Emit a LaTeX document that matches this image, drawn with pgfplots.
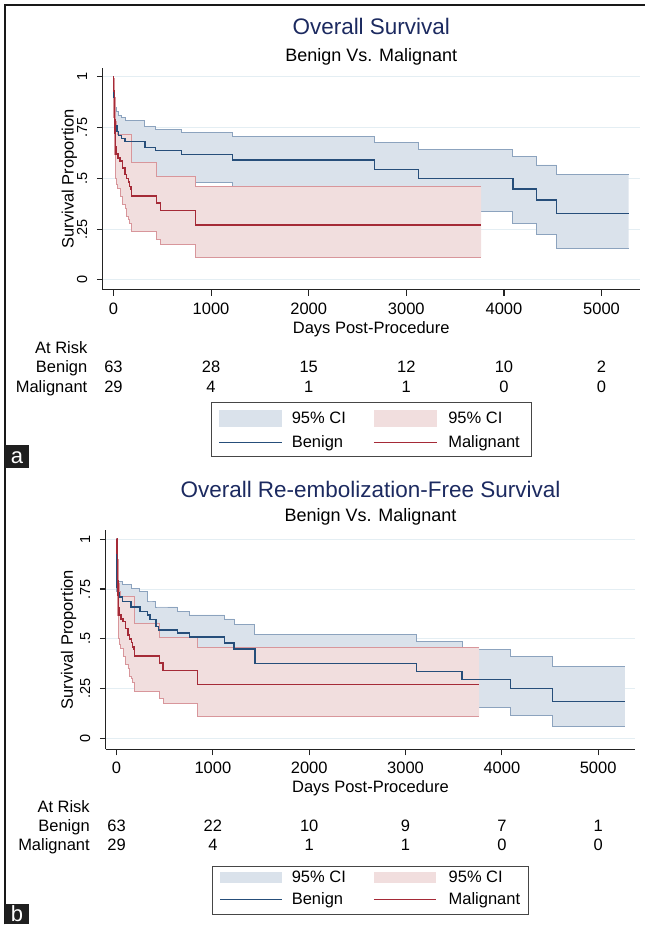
\documentclass[border=0pt]{standalone}
\usepackage{fontspec}
\setmainfont{Liberation Sans}
\usepackage{pgfplots}
\usepackage{pgfplotstable}
\pgfplotsset{compat=1.18}
\usepgfplotslibrary{fillbetween}

\definecolor{titlecol}{RGB}{28,42,96}
\definecolor{axcol}{RGB}{35,35,35}
\definecolor{gridcol}{RGB}{228,238,243}
\definecolor{bfill}{RGB}{218,226,235}
\definecolor{bci}{RGB}{140,163,190}
\definecolor{bline}{RGB}{38,78,122}
\definecolor{pfill}{RGB}{241,222,222}
\definecolor{pci}{RGB}{216,150,155}
\definecolor{rline}{RGB}{165,42,55}
\definecolor{legcol}{RGB}{70,70,70}

\newcommand\fs[1]{\fontsize{#1}{#1}\selectfont}

% ---- Panel a data: time, KM estimate, lower CI, upper CI
\pgfplotstableread{
t s lo hi
0 1 1 1
3 0.90 0.82 0.95
8 0.84 0.75 0.91
14 0.79 0.70 0.87
22 0.76 0.66 0.85
35 0.73 0.62 0.83
55 0.71 0.60 0.81
85 0.695 0.58 0.80
120 0.681 0.56 0.787
322 0.652 0.53 0.755
430 0.637 0.50 0.739
695 0.619 0.478 0.726
1218 0.59 0.44 0.705
2673 0.545 0.39 0.677
3122 0.498 0.336 0.644
4091 0.448 0.279 0.609
4332 0.393 0.222 0.566
4540 0.328 0.154 0.517
5278 0.328 0.154 0.517
}\BenA

\pgfplotstableread{
t s lo hi
0 1 1 1
3 0.93 0.80 0.99
8 0.86 0.70 0.95
12 0.79 0.62 0.90
17 0.72 0.56 0.84
22 0.655 0.50 0.78
27 0.62 0.47 0.74
45 0.60 0.45 0.714
68 0.586 0.41 0.714
95 0.552 0.37 0.714
119 0.52 0.35 0.714
136 0.50 0.31 0.714
155 0.483 0.30 0.714
164 0.46 0.28 0.714
182 0.448 0.26 0.58
188 0.414 0.238 0.58
444 0.379 0.20 0.509
484 0.341 0.176 0.509
838 0.271 0.112 0.458
3765 0.271 0.112 0.458
}\MalA

% ---- Panel b data
\pgfplotstableread{
t s lo hi
0 1 1 1
3 0.84 0.74 0.90
6 0.76 0.66 0.84
12 0.73 0.62 0.81
24 0.71 0.60 0.79
60 0.688 0.57 0.775
152 0.66 0.55 0.755
242 0.638 0.52 0.738
323 0.62 0.50 0.69
346 0.597 0.48 0.69
409 0.563 0.45 0.66
433 0.545 0.44 0.66
631 0.53 0.43 0.638
759 0.51 0.41 0.62
1123 0.479 0.38 0.60
1221 0.449 0.35 0.574
1436 0.378 0.28 0.52
3115 0.337 0.24 0.485
3588 0.296 0.155 0.447
4090 0.251 0.117 0.41
4528 0.188 0.063 0.363
5278 0.188 0.063 0.363
}\BenB

\pgfplotstableread{
t s lo hi
0 1 1 1
3 0.93 0.80 0.99
8 0.86 0.70 0.95
12 0.79 0.62 0.90
17 0.72 0.56 0.84
22 0.655 0.50 0.78
27 0.62 0.47 0.74
45 0.60 0.45 0.714
68 0.586 0.41 0.714
95 0.552 0.37 0.714
119 0.52 0.35 0.714
136 0.50 0.31 0.714
155 0.483 0.30 0.714
164 0.46 0.28 0.714
182 0.448 0.26 0.58
188 0.414 0.238 0.58
444 0.379 0.20 0.509
484 0.341 0.176 0.509
838 0.271 0.112 0.458
3765 0.271 0.112 0.458
}\MalB

\tikzset{
  risk/.style={anchor=base, inner sep=0pt, font=\fs{16.5}},
  riskhead/.style={anchor=base east, inner sep=0pt, font=\fs{16.5}},
  ghost/.style={draw=none, fill=none},
}

\pgfplotsset{
  kmaxis/.style={
    scale only axis,
    axis lines*=left,
    axis line style={line width=1.1pt, color=axcol},
    tick align=outside,
    major tick length=6pt,
    tick style={line width=1.1pt, color=axcol},
    xtick={0,1000,2000,3000,4000,5000},
    xticklabels={0,1000,2000,3000,4000,5000},
    ytick={0,0.25,0.5,0.75,1},
    yticklabels={0,.25,.5,.75,1},
    minor tick num=0,
    ymajorgrids,
    grid style={line width=1pt, color=gridcol},
    xticklabel style={font=\fs{16.5}, inner sep=0pt, anchor=base, yshift=-18.5pt},
    yticklabel style={font=\fs{14.5}, inner sep=0pt, xshift=-9.7pt, rotate=90, anchor=base},
    xlabel={Days Post-Procedure},
    ylabel={Survival Proportion},
    label style={font=\fs{16.5}},
    title style={font=\fs{22.5}, color=titlecol, anchor=base},
    clip=false,
    legend columns=2,
    legend style={anchor=north west, draw=legcol, line width=0.8pt,
      inner sep=0pt, outer sep=0pt, column sep=0pt, row sep=0pt,
      font=\fs{16.5}, cells={anchor=west}, nodes={inner sep=0pt}},
  },
}

\begin{document}
\begin{tikzpicture}
\path (0pt,0pt) rectangle (645pt,925pt);

% ================= Panel a =================
\begin{axis}[kmaxis,
  at={(103pt,635pt)}, anchor=south west,
  width=537pt, height=222pt,
  xmin=-107.5, xmax=5389, ymin=-0.049, ymax=1.044,
  title={Overall Survival},
  title style={at={(axis description cs:0.5,1.1225)}},
  xlabel style={at={(axis description cs:0.5,-0.195)}, anchor=base},
  ylabel style={at={(axis description cs:-0.0546,0.5)}, anchor=base},
  legend style={at={(axis description cs:0.20298,-0.509)}},
]
\addplot[const plot, draw=none, name path=aBhi, forget plot] table[x=t,y=hi]{\BenA};
\addplot[const plot, draw=none, name path=aBlo, forget plot] table[x=t,y=lo]{\BenA};
\addplot[fill=bfill, draw=none,
  legend image code/.code={\path[ghost] (-7.3pt,-12pt) rectangle (72.7pt,15.5pt);
    \fill[bfill] (0pt,-8.5pt) rectangle (62.9pt,8.5pt);}]
  fill between[of=aBhi and aBlo, on layer=main];
\addlegendentry{\makebox[81.5pt][l]{95\% CI}}
\addplot[const plot, color=bci, line width=0.9pt, forget plot] table[x=t,y=hi]{\BenA};
\addplot[const plot, color=bci, line width=0.9pt, forget plot] table[x=t,y=lo]{\BenA};

\addplot[const plot, draw=none, name path=aMhi, forget plot] table[x=t,y=hi]{\MalA};
\addplot[const plot, draw=none, name path=aMlo, forget plot] table[x=t,y=lo]{\MalA};
\addplot[fill=pfill, draw=none,
  legend image code/.code={\path[ghost] (0pt,-12pt) rectangle (74.5pt,15.5pt);
    \fill[pfill] (0pt,-8.5pt) rectangle (63.4pt,8.5pt);}]
  fill between[of=aMhi and aMlo, on layer=main];
\addlegendentry{\makebox[83pt][l]{95\% CI}}
\addplot[const plot, color=pci, line width=0.9pt, forget plot] table[x=t,y=hi]{\MalA};
\addplot[const plot, color=pci, line width=0.9pt, forget plot] table[x=t,y=lo]{\MalA};

\addplot[const plot, color=bline, line width=1.4pt,
  legend image code/.code={\path[ghost] (-7.3pt,-14.3pt) rectangle (72.7pt,12.2pt);
    \draw[bline, line width=1.2pt] (0pt,0pt) -- (62.9pt,0pt);}]
  table[x=t,y=s]{\BenA};
\addlegendentry{\makebox[81.5pt][l]{Benign}}
\addplot[const plot, color=rline, line width=1.4pt,
  legend image code/.code={\path[ghost] (0pt,-14.3pt) rectangle (74.5pt,12.2pt);
    \draw[rline, line width=1.2pt] (0pt,0pt) -- (63.4pt,0pt);}]
  table[x=t,y=s]{\MalA};
\addlegendentry{\makebox[83pt][l]{Malignant}}

\node[anchor=base, font=\fs{18}] at (axis description cs:0.5,1.031) {Benign Vs. Malignant};
\node[riskhead] at (axis description cs:-0.0287,-0.285) {At Risk};
\node[riskhead] at (axis description cs:-0.0287,-0.374) {Benign};
\node[riskhead] at (axis description cs:-0.0287,-0.4617) {Malignant};
\node[risk] at (axis cs:0,-0.4576) {63};
\node[risk] at (axis cs:1000,-0.4576) {28};
\node[risk] at (axis cs:2000,-0.4576) {15};
\node[risk] at (axis cs:3000,-0.4576) {12};
\node[risk] at (axis cs:4000,-0.4576) {10};
\node[risk] at (axis cs:5000,-0.4576) {2};
\node[risk] at (axis cs:0,-0.5537) {29};
\node[risk] at (axis cs:1000,-0.5537) {4};
\node[risk] at (axis cs:2000,-0.5537) {1};
\node[risk] at (axis cs:3000,-0.5537) {1};
\node[risk] at (axis cs:4000,-0.5537) {0};
\node[risk] at (axis cs:5000,-0.5537) {0};
\end{axis}

% ================= Panel b =================
\begin{axis}[kmaxis,
  at={(106pt,175pt)}, anchor=south west,
  width=529.5pt, height=220pt,
  xmin=-110, xmax=5383, ymin=-0.0536, ymax=1.0475,
  title={Overall Re-embolization-Free Survival},
  title style={at={(axis description cs:0.5,1.1205)}},
  xlabel style={at={(axis description cs:0.5,-0.1955)}, anchor=base},
  ylabel style={at={(axis description cs:-0.0623,0.5)}, anchor=base},
  legend style={at={(axis description cs:0.2015,-0.5332)}},
]
\addplot[const plot, draw=none, name path=bBhi, forget plot] table[x=t,y=hi]{\BenB};
\addplot[const plot, draw=none, name path=bBlo, forget plot] table[x=t,y=lo]{\BenB};
\addplot[fill=bfill, draw=none,
  legend image code/.code={\path[ghost] (-7.8pt,-10.8pt) rectangle (71.5pt,11.1pt);
    \fill[bfill] (0pt,-5.7pt) rectangle (61.7pt,5.7pt);}]
  fill between[of=bBhi and bBlo, on layer=main];
\addlegendentry{\makebox[81.5pt][l]{95\% CI}}
\addplot[const plot, color=bci, line width=0.9pt, forget plot] table[x=t,y=hi]{\BenB};
\addplot[const plot, color=bci, line width=0.9pt, forget plot] table[x=t,y=lo]{\BenB};

\addplot[const plot, draw=none, name path=bMhi, forget plot] table[x=t,y=hi]{\MalB};
\addplot[const plot, draw=none, name path=bMlo, forget plot] table[x=t,y=lo]{\MalB};
\addplot[fill=pfill, draw=none,
  legend image code/.code={\path[ghost] (0pt,-10.8pt) rectangle (74.9pt,11.1pt);
    \fill[pfill] (0pt,-5.7pt) rectangle (62.5pt,5.7pt);}]
  fill between[of=bMhi and bMlo, on layer=main];
\addlegendentry{\makebox[79.4pt][l]{95\% CI}}
\addplot[const plot, color=pci, line width=0.9pt, forget plot] table[x=t,y=hi]{\MalB};
\addplot[const plot, color=pci, line width=0.9pt, forget plot] table[x=t,y=lo]{\MalB};

\addplot[const plot, color=bline, line width=1.4pt,
  legend image code/.code={\path[ghost] (-7.8pt,-15pt) rectangle (71.5pt,10.8pt);
    \draw[bline, line width=1.2pt] (0pt,0pt) -- (61.7pt,0pt);}]
  table[x=t,y=s]{\BenB};
\addlegendentry{\makebox[81.5pt][l]{Benign}}
\addplot[const plot, color=rline, line width=1.4pt,
  legend image code/.code={\path[ghost] (0pt,-15pt) rectangle (74.9pt,10.8pt);
    \draw[rline, line width=1.2pt] (0pt,0pt) -- (62.5pt,0pt);}]
  table[x=t,y=s]{\MalB};
\addlegendentry{\makebox[79.4pt][l]{Malignant}}

\node[anchor=base, font=\fs{18}] at (axis description cs:0.5,1.0364) {Benign Vs. Malignant};
\node[riskhead] at (axis description cs:-0.0302,-0.2864) {At Risk};
\node[riskhead] at (axis description cs:-0.0302,-0.3714) {Benign};
\node[riskhead] at (axis description cs:-0.0302,-0.4577) {Malignant};
\node[risk] at (axis cs:0,-0.4625) {63};
\node[risk] at (axis cs:1000,-0.4625) {22};
\node[risk] at (axis cs:2000,-0.4625) {10};
\node[risk] at (axis cs:3000,-0.4625) {9};
\node[risk] at (axis cs:4000,-0.4625) {7};
\node[risk] at (axis cs:5000,-0.4625) {1};
\node[risk] at (axis cs:0,-0.5576) {29};
\node[risk] at (axis cs:1000,-0.5576) {4};
\node[risk] at (axis cs:2000,-0.5576) {1};
\node[risk] at (axis cs:3000,-0.5576) {1};
\node[risk] at (axis cs:4000,-0.5576) {0};
\node[risk] at (axis cs:5000,-0.5576) {0};
\end{axis}

% frame and panel letters
\draw[line width=1.3pt, black!90] (5pt,0pt) -- (5pt,920pt) -- (645pt,920pt);
\fill[black!88] (5pt,457pt) rectangle (29pt,480pt);
\node[white, font=\fs{22}, anchor=base] at (17pt,461pt) {a};
\fill[black!88] (5pt,0pt) rectangle (29pt,20pt);
\node[white, font=\fs{22}, anchor=base] at (17pt,3pt) {b};
\end{tikzpicture}
\end{document}
